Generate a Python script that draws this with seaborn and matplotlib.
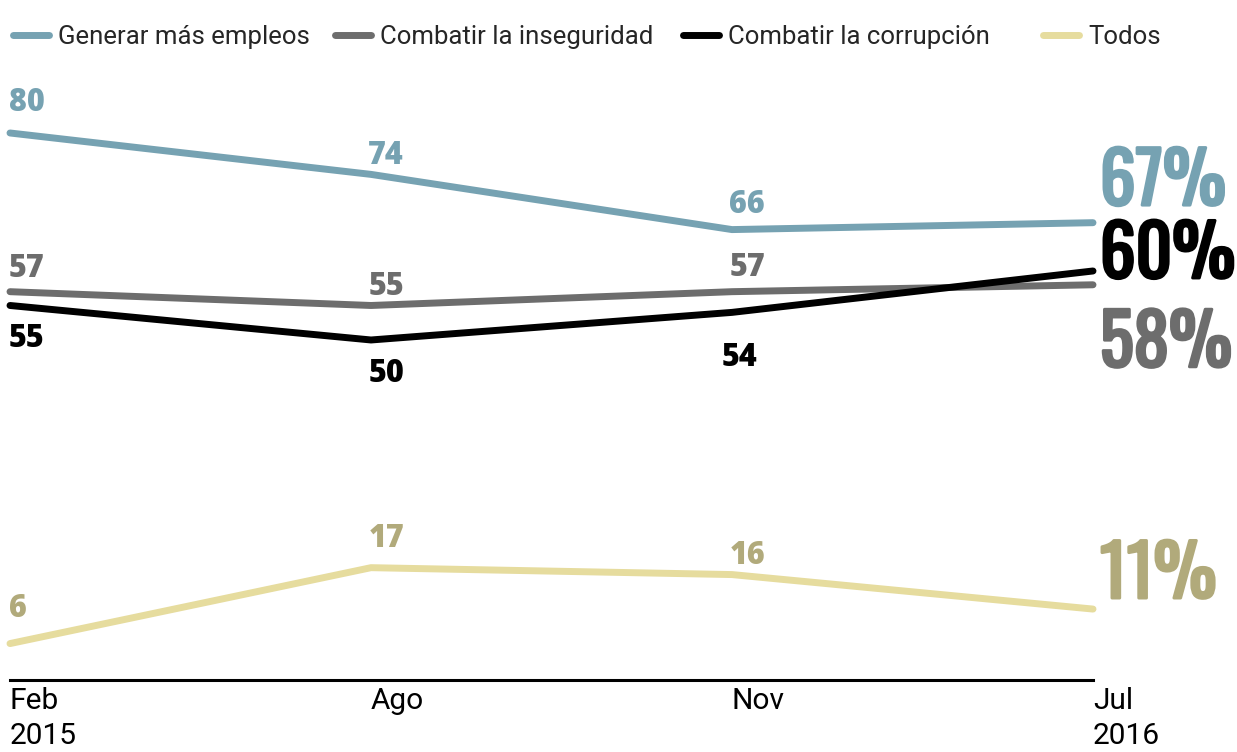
import pandas as pd
import matplotlib.pyplot as plt
import matplotlib.patheffects as pe
import seaborn as sns
from matplotlib.lines import Line2D

# data
periods = ["Feb\n2015", "Ago", "Nov", "Jul\n2016"]
series_names = ["Generar más empleos", "Combatir la inseguridad",
                "Combatir la corrupción", "Todos"]
empleos = [80, 74, 66, 67]
inseguridad = [57, 55, 57, 58]
corrupcion = [55, 50, 54, 60]
todos = [6, 17, 16, 11]

line_colors = ["#76a2b2", "#6d6d6d", "#000000", "#e6dc9e"]
text_colors = ["#76a2b2", "#6d6d6d", "#000000", "#b1aa7b"]

values = [empleos, inseguridad, corrupcion, todos]
rows = []
for name, vals in zip(series_names, values):
    for i, v in enumerate(vals):
        rows.append({"serie": name, "pos": i, "valor": v})
df = pd.DataFrame(rows)

sns.set_theme(style="white")
plt.rcParams["font.family"] = ["Roboto", "DejaVu Sans"]

W, H = 1237, 752
fig = plt.figure(figsize=(W / 100, H / 100), dpi=100)
ax = fig.add_axes([10 / W, 1 - 680 / H, (1093 - 10) / W, (680 - 80) / H])

sns.lineplot(data=df, x="pos", y="valor", hue="serie", hue_order=series_names,
             palette=line_colors, linewidth=5, ax=ax, legend=False)
for ln in ax.get_lines():
    ln.set_solid_capstyle("round")
    ln.set_clip_on(False)

ax.set_xlim(0, 3)
ax.set_ylim(0.72, 87.68)
ax.set_yticks([])
ax.set_ylabel("")
ax.set_xlabel("")
ax.set_xticks(range(len(periods)))
ax.set_xticklabels(periods, ha="left", fontsize=21.5, linespacing=1.3)
ax.tick_params(axis="x", length=0, pad=5, colors="black")
for s in ["top", "left", "right"]:
    ax.spines[s].set_visible(False)
ax.spines["bottom"].set_color("black")
ax.spines["bottom"].set_linewidth(2.2)

# point labels, baseline offset from the point (points, up is positive)
small_font = dict(fontsize=22, fontweight=800, family=["Open Sans", "DejaVu Sans"])
label_dy = [
    [15.8, 7.2, 12.2],
    [10.8, 7.9, 11.5],
    [-30.2, -30.2, -38.9],
    [19.4, 15.1, 7.9],
]
label_dx = [
    [-1, -2, -2],
    [-1, -2, -2],
    [-1, -2, -7.5],
    [-1, -2, -2],
]
for si, vals in enumerate(values):
    for i in range(3):
        ax.annotate(str(vals[i]), (i, vals[i]),
                    xytext=(label_dx[si][i], label_dy[si][i]),
                    textcoords="offset points", ha="left", va="baseline",
                    color=text_colors[si], annotation_clip=False, **small_font)

# big end labels
end_dy = [12.7, -59, -5, 8]
for si, vals in enumerate(values):
    ax.annotate(f"{vals[-1]}%", (3, vals[-1]), xytext=(5, end_dy[si]),
                textcoords="offset points", ha="left", va="baseline",
                color=text_colors[si], annotation_clip=False,
                fontsize=51, family=["Oswald", "DejaVu Sans"],
                path_effects=[pe.withStroke(linewidth=2.2,
                                            foreground=text_colors[si])])

# legend, one entry each so the spacing can follow the original
legend_x = [13, 335, 683, 1043]
for name, col, lx in zip(series_names, line_colors, legend_x):
    h = Line2D([], [], color=col, linewidth=5)
    fig.legend(handles=[h], labels=[name], loc="center left",
               bbox_to_anchor=(lx / W, 1 - 37 / H), frameon=False,
               fontsize=18.5, handlelength=1.4, handletextpad=0.35,
               borderpad=0, borderaxespad=0)

fig.savefig("out.png", dpi=100)
